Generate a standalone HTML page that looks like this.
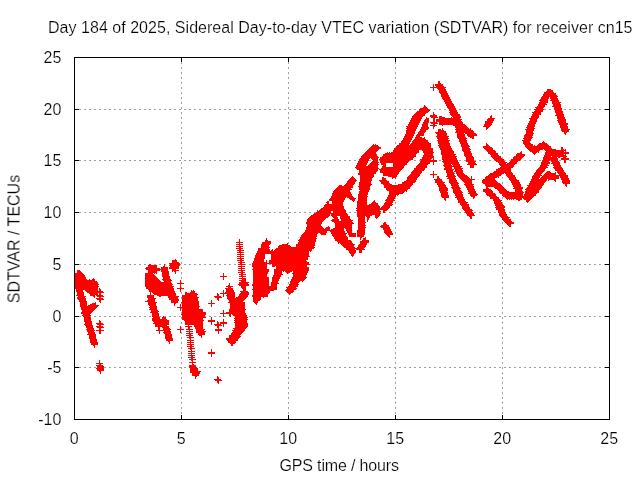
<!DOCTYPE html>
<html><head><meta charset="utf-8"><title>SDTVAR</title>
<style>
html,body{margin:0;padding:0;background:#fff;}
body{width:640px;height:480px;overflow:hidden;}
svg{display:block;}
text{font-family:"Liberation Sans",sans-serif;font-size:16px;fill:#000;stroke:#fff;stroke-width:0.2px;}
</style></head><body>
<svg width="640" height="480" viewBox="0 0 640 480">
<rect width="640" height="480" fill="#fff"/>
<g stroke="#a0a0a0" stroke-width="1" stroke-dasharray="2 3" shape-rendering="crispEdges"><line x1="181.5" y1="57" x2="181.5" y2="419"/><line x1="288.5" y1="57" x2="288.5" y2="419"/><line x1="395.5" y1="57" x2="395.5" y2="419"/><line x1="502.5" y1="57" x2="502.5" y2="419"/><line x1="74" y1="367.5" x2="610" y2="367.5"/><line x1="74" y1="316.5" x2="610" y2="316.5"/><line x1="74" y1="264.5" x2="610" y2="264.5"/><line x1="74" y1="212.5" x2="610" y2="212.5"/><line x1="74" y1="160.5" x2="610" y2="160.5"/><line x1="74" y1="109.5" x2="610" y2="109.5"/></g>
<path d="M438 81.5h2M438 82.5h2M438 83.5h3M433 84.5h1M435 84.5h8M433 85.5h1M435 85.5h8M433 86.5h1M436 86.5h8M430 87.5h16M433 88.5h1M437 88.5h8M433 89.5h1M438 89.5h8M547 89.5h4M433 90.5h1M439 90.5h7M547 90.5h6M439 91.5h8M546 91.5h7M439 92.5h8M544 92.5h10M440 93.5h8M544 93.5h12M441 94.5h7M543 94.5h13M441 95.5h8M543 95.5h14M441 96.5h8M542 96.5h16M442 97.5h8M541 97.5h8M550 97.5h7M442 98.5h8M541 98.5h8M550 98.5h8M443 99.5h8M540 99.5h8M551 99.5h7M444 100.5h7M539 100.5h9M550 100.5h9M444 101.5h8M540 101.5h8M552 101.5h7M445 102.5h7M539 102.5h9M552 102.5h9M445 103.5h8M539 103.5h7M552 103.5h8M446 104.5h8M538 104.5h9M553 104.5h8M424 105.5h1M446 105.5h8M538 105.5h7M553 105.5h8M424 106.5h2M447 106.5h8M537 106.5h8M552 106.5h9M423 107.5h4M447 107.5h8M535 107.5h9M554 107.5h7M420 108.5h8M448 108.5h8M536 108.5h7M554 108.5h8M419 109.5h10M449 109.5h7M534 109.5h10M554 109.5h8M419 110.5h11M449 110.5h8M535 110.5h8M555 110.5h7M417 111.5h12M450 111.5h7M534 111.5h9M555 111.5h8M416 112.5h12M433 112.5h1M449 112.5h9M532 112.5h9M555 112.5h8M415 113.5h11M433 113.5h1M450 113.5h8M533 113.5h8M556 113.5h7M414 114.5h11M433 114.5h2M450 114.5h10M532 114.5h9M556 114.5h8M413 115.5h12M430 115.5h7M451 115.5h9M491 115.5h1M532 115.5h7M555 115.5h9M412 116.5h11M430 116.5h7M439 116.5h3M452 116.5h9M490 116.5h2M531 116.5h8M557 116.5h7M412 117.5h10M426 117.5h1M431 117.5h7M439 117.5h6M451 117.5h1M453 117.5h8M490 117.5h2M531 117.5h8M557 117.5h8M411 118.5h11M426 118.5h3M433 118.5h2M439 118.5h21M488 118.5h7M529 118.5h9M557 118.5h8M411 119.5h10M425 119.5h4M433 119.5h2M436 119.5h26M487 119.5h7M530 119.5h7M558 119.5h8M410 120.5h11M424 120.5h5M433 120.5h2M436 120.5h25M487 120.5h7M530 120.5h7M557 120.5h9M410 121.5h10M424 121.5h5M433 121.5h2M436 121.5h26M485 121.5h8M529 121.5h8M558 121.5h8M409 122.5h11M423 122.5h6M430 122.5h7M439 122.5h24M485 122.5h8M529 122.5h7M558 122.5h8M409 123.5h10M423 123.5h5M431 123.5h7M439 123.5h24M485 123.5h7M528 123.5h8M559 123.5h9M408 124.5h11M422 124.5h6M433 124.5h2M439 124.5h26M484 124.5h8M528 124.5h7M559 124.5h9M408 125.5h10M422 125.5h6M430 125.5h7M442 125.5h1M453 125.5h13M484 125.5h7M527 125.5h8M560 125.5h7M406 126.5h12M422 126.5h6M433 126.5h2M455 126.5h12M483 126.5h7M527 126.5h8M560 126.5h8M407 127.5h10M421 127.5h8M433 127.5h1M455 127.5h13M486 127.5h3M526 127.5h8M560 127.5h8M406 128.5h11M421 128.5h8M433 128.5h1M442 128.5h1M456 128.5h13M470 128.5h1M486 128.5h2M527 128.5h8M561 128.5h7M407 129.5h9M420 129.5h8M438 129.5h3M442 129.5h1M455 129.5h16M486 129.5h1M525 129.5h9M561 129.5h9M406 130.5h10M420 130.5h6M438 130.5h6M456 130.5h17M526 130.5h8M561 130.5h8M406 131.5h9M419 131.5h7M438 131.5h8M456 131.5h18M526 131.5h7M562 131.5h7M406 132.5h9M418 132.5h7M435 132.5h11M455 132.5h19M526 132.5h7M564 132.5h3M406 133.5h9M418 133.5h6M436 133.5h11M457 133.5h7M465 133.5h11M526 133.5h8M564 133.5h2M405 134.5h9M417 134.5h7M437 134.5h10M457 134.5h8M467 134.5h10M525 134.5h8M565 134.5h1M405 135.5h9M416 135.5h8M437 135.5h10M457 135.5h8M467 135.5h10M524 135.5h9M404 136.5h9M416 136.5h4M436 136.5h13M457 136.5h8M468 136.5h6M524 136.5h8M404 137.5h9M415 137.5h7M424 137.5h1M437 137.5h11M457 137.5h9M470 137.5h4M524 137.5h9M403 138.5h9M415 138.5h10M437 138.5h12M458 138.5h9M472 138.5h2M523 138.5h9M403 139.5h9M414 139.5h12M438 139.5h10M459 139.5h7M524 139.5h7M402 140.5h9M413 140.5h15M437 140.5h13M459 140.5h8M522 140.5h9M401 141.5h10M412 141.5h16M438 141.5h11M459 141.5h8M523 141.5h7M543 141.5h1M401 142.5h9M412 142.5h17M438 142.5h11M460 142.5h7M523 142.5h7M542 142.5h3M399 143.5h11M411 143.5h20M438 143.5h12M460 143.5h8M486 143.5h1M523 143.5h8M539 143.5h8M373 144.5h1M375 144.5h1M399 144.5h10M410 144.5h21M439 144.5h11M461 144.5h7M486 144.5h2M524 144.5h9M538 144.5h10M372 145.5h6M397 145.5h34M438 145.5h12M461 145.5h8M486 145.5h3M525 145.5h8M534 145.5h1M537 145.5h12M371 146.5h8M396 146.5h35M439 146.5h12M461 146.5h9M483 146.5h7M525 146.5h26M370 147.5h11M396 147.5h35M439 147.5h12M462 147.5h7M483 147.5h9M526 147.5h25M561 147.5h2M369 148.5h12M394 148.5h39M440 148.5h12M462 148.5h8M484 148.5h9M527 148.5h25M561 148.5h2M368 149.5h11M394 149.5h39M440 149.5h12M462 149.5h9M485 149.5h8M528 149.5h15M544 149.5h12M561 149.5h3M565 149.5h1M367 150.5h11M393 150.5h26M422 150.5h11M441 150.5h12M462 150.5h8M486 150.5h9M529 150.5h11M545 150.5h21M366 151.5h11M393 151.5h26M423 151.5h10M441 151.5h13M463 151.5h8M487 151.5h9M521 151.5h1M530 151.5h9M546 151.5h18M565 151.5h1M365 152.5h11M387 152.5h1M389 152.5h1M391 152.5h28M423 152.5h11M441 152.5h13M464 152.5h7M488 152.5h8M520 152.5h2M532 152.5h5M538 152.5h1M545 152.5h24M364 153.5h12M385 153.5h32M424 153.5h9M441 153.5h13M464 153.5h8M488 153.5h10M517 153.5h5M533 153.5h3M545 153.5h24M363 154.5h14M383 154.5h33M424 154.5h9M441 154.5h15M464 154.5h8M490 154.5h8M516 154.5h9M534 154.5h1M545 154.5h19M565 154.5h1M362 155.5h15M383 155.5h33M423 155.5h10M442 155.5h13M464 155.5h8M491 155.5h8M516 155.5h9M544 155.5h22M361 156.5h17M382 156.5h34M423 156.5h11M442 156.5h15M465 156.5h8M491 156.5h10M514 156.5h10M544 156.5h7M552 156.5h15M361 157.5h18M380 157.5h34M422 157.5h12M442 157.5h14M466 157.5h8M492 157.5h9M513 157.5h10M543 157.5h14M558 157.5h2M563 157.5h3M360 158.5h10M371 158.5h7M380 158.5h33M422 158.5h10M433 158.5h1M442 158.5h15M466 158.5h8M493 158.5h9M513 158.5h9M543 158.5h15M561 158.5h8M359 159.5h10M372 159.5h6M379 159.5h34M420 159.5h11M433 159.5h1M442 159.5h15M466 159.5h8M494 159.5h10M511 159.5h10M543 159.5h15M561 159.5h8M359 160.5h10M373 160.5h5M380 160.5h30M421 160.5h16M443 160.5h15M466 160.5h8M495 160.5h9M511 160.5h9M542 160.5h8M551 160.5h7M564 160.5h2M358 161.5h10M372 161.5h6M380 161.5h29M420 161.5h17M442 161.5h16M466 161.5h10M496 161.5h9M510 161.5h8M542 161.5h7M551 161.5h8M564 161.5h2M358 162.5h10M371 162.5h8M380 162.5h28M420 162.5h10M433 162.5h1M443 162.5h16M468 162.5h7M498 162.5h9M509 162.5h8M541 162.5h9M552 162.5h8M564 162.5h2M357 163.5h10M370 163.5h8M381 163.5h5M393 163.5h14M419 163.5h11M433 163.5h1M444 163.5h15M468 163.5h8M499 163.5h7M507 163.5h10M541 163.5h9M551 163.5h9M357 164.5h10M369 164.5h10M381 164.5h5M393 164.5h14M418 164.5h10M433 164.5h1M444 164.5h7M452 164.5h8M467 164.5h10M499 164.5h16M541 164.5h7M553 164.5h7M356 165.5h10M368 165.5h10M383 165.5h3M393 165.5h12M417 165.5h10M443 165.5h9M453 165.5h7M470 165.5h4M500 165.5h14M540 165.5h9M553 165.5h8M356 166.5h22M382 166.5h4M393 166.5h11M416 166.5h11M444 166.5h18M470 166.5h4M501 166.5h13M540 166.5h7M554 166.5h7M355 167.5h23M382 167.5h22M416 167.5h11M445 167.5h7M454 167.5h7M470 167.5h4M500 167.5h13M539 167.5h9M553 167.5h9M356 168.5h23M381 168.5h22M414 168.5h11M444 168.5h8M454 168.5h9M498 168.5h13M538 168.5h8M554 168.5h9M357 169.5h21M379 169.5h23M414 169.5h11M444 169.5h10M455 169.5h7M496 169.5h15M537 169.5h8M555 169.5h8M359 170.5h19M380 170.5h21M413 170.5h11M446 170.5h7M455 170.5h8M496 170.5h15M536 170.5h9M555 170.5h9M359 171.5h18M380 171.5h20M412 171.5h10M433 171.5h1M446 171.5h7M454 171.5h9M494 171.5h17M536 171.5h8M547 171.5h3M557 171.5h7M359 172.5h17M380 172.5h19M411 172.5h11M433 172.5h1M446 172.5h8M456 172.5h7M493 172.5h19M535 172.5h8M546 172.5h5M555 172.5h1M557 172.5h8M358 173.5h18M383 173.5h16M411 173.5h10M433 173.5h1M447 173.5h8M456 173.5h8M490 173.5h14M505 173.5h8M534 173.5h8M545 173.5h11M558 173.5h8M358 174.5h16M383 174.5h15M410 174.5h10M430 174.5h7M447 174.5h7M457 174.5h8M489 174.5h13M506 174.5h7M534 174.5h7M544 174.5h12M559 174.5h7M360 175.5h14M383 175.5h14M409 175.5h11M433 175.5h1M447 175.5h8M457 175.5h10M488 175.5h13M506 175.5h9M533 175.5h9M543 175.5h25M352 176.5h1M360 176.5h14M388 176.5h9M408 176.5h11M433 176.5h1M437 176.5h2M446 176.5h10M458 176.5h10M471 176.5h1M486 176.5h13M507 176.5h8M532 176.5h8M542 176.5h17M560 176.5h8M351 177.5h3M360 177.5h13M382 177.5h2M392 177.5h4M407 177.5h11M433 177.5h1M437 177.5h2M448 177.5h7M459 177.5h10M471 177.5h1M485 177.5h12M498 177.5h1M508 177.5h8M532 177.5h8M541 177.5h18M560 177.5h8M350 178.5h5M360 178.5h12M382 178.5h4M392 178.5h1M395 178.5h1M407 178.5h10M437 178.5h3M447 178.5h9M460 178.5h10M471 178.5h1M485 178.5h10M509 178.5h7M532 178.5h7M540 178.5h19M561 178.5h8M349 179.5h7M360 179.5h12M382 179.5h4M407 179.5h10M434 179.5h8M449 179.5h7M461 179.5h14M483 179.5h12M509 179.5h8M531 179.5h16M548 179.5h8M561 179.5h8M348 180.5h9M360 180.5h12M379 180.5h8M406 180.5h10M435 180.5h7M449 180.5h8M462 180.5h10M482 180.5h14M510 180.5h9M531 180.5h16M548 180.5h1M554 180.5h2M562 180.5h8M347 181.5h9M360 181.5h11M380 181.5h9M404 181.5h12M435 181.5h8M449 181.5h8M463 181.5h9M482 181.5h15M511 181.5h8M530 181.5h16M555 181.5h1M562 181.5h8M347 182.5h8M359 182.5h12M381 182.5h8M402 182.5h13M435 182.5h10M449 182.5h9M464 182.5h8M482 182.5h16M511 182.5h9M530 182.5h15M562 182.5h8M346 183.5h9M359 183.5h12M381 183.5h9M402 183.5h11M437 183.5h7M450 183.5h9M465 183.5h7M483 183.5h17M512 183.5h8M529 183.5h15M563 183.5h7M345 184.5h9M359 184.5h13M383 184.5h9M398 184.5h15M437 184.5h8M451 184.5h7M464 184.5h10M485 184.5h16M512 184.5h9M529 184.5h15M565 184.5h2M339 185.5h3M344 185.5h9M359 185.5h12M384 185.5h28M438 185.5h8M451 185.5h8M465 185.5h8M485 185.5h17M513 185.5h8M527 185.5h16M565 185.5h2M338 186.5h15M358 186.5h12M384 186.5h27M438 186.5h8M452 186.5h7M466 186.5h8M486 186.5h17M513 186.5h8M528 186.5h14M566 186.5h1M337 187.5h16M359 187.5h11M384 187.5h26M439 187.5h8M451 187.5h9M466 187.5h8M486 187.5h2M494 187.5h10M514 187.5h9M527 187.5h15M336 188.5h15M359 188.5h11M386 188.5h24M439 188.5h9M452 188.5h9M467 188.5h7M486 188.5h3M495 188.5h10M513 188.5h10M526 188.5h15M335 189.5h17M359 189.5h11M386 189.5h22M439 189.5h9M453 189.5h7M467 189.5h8M483 189.5h8M497 189.5h9M515 189.5h7M525 189.5h15M334 190.5h16M360 190.5h9M387 190.5h20M439 190.5h9M453 190.5h8M468 190.5h7M483 190.5h9M498 190.5h9M515 190.5h7M526 190.5h13M333 191.5h17M359 191.5h10M389 191.5h16M406 191.5h1M440 191.5h7M453 191.5h9M468 191.5h8M483 191.5h10M499 191.5h10M515 191.5h8M525 191.5h14M333 192.5h18M359 192.5h9M389 192.5h15M440 192.5h8M453 192.5h10M469 192.5h7M485 192.5h8M499 192.5h25M525 192.5h14M332 193.5h19M359 193.5h9M389 193.5h14M441 193.5h7M454 193.5h8M468 193.5h9M486 193.5h9M500 193.5h23M525 193.5h12M332 194.5h20M358 194.5h10M389 194.5h10M441 194.5h7M455 194.5h8M470 194.5h8M486 194.5h10M502 194.5h21M524 194.5h12M332 195.5h20M358 195.5h9M388 195.5h8M397 195.5h1M441 195.5h8M455 195.5h8M470 195.5h7M487 195.5h9M502 195.5h21M524 195.5h12M331 196.5h22M358 196.5h10M388 196.5h8M441 196.5h8M456 196.5h7M471 196.5h4M489 196.5h8M503 196.5h31M331 197.5h15M347 197.5h7M358 197.5h9M387 197.5h8M442 197.5h7M455 197.5h9M473 197.5h2M490 197.5h9M505 197.5h28M330 198.5h15M349 198.5h7M358 198.5h9M387 198.5h8M444 198.5h2M457 198.5h7M473 198.5h1M490 198.5h9M506 198.5h16M523 198.5h9M329 199.5h16M350 199.5h5M358 199.5h9M386 199.5h8M444 199.5h2M457 199.5h8M493 199.5h7M507 199.5h1M509 199.5h1M511 199.5h1M513 199.5h1M516 199.5h6M524 199.5h7M329 200.5h15M352 200.5h3M358 200.5h9M374 200.5h1M385 200.5h10M445 200.5h1M458 200.5h7M493 200.5h9M518 200.5h2M526 200.5h4M327 201.5h2M332 201.5h12M353 201.5h1M357 201.5h10M373 201.5h2M386 201.5h7M458 201.5h8M494 201.5h7M526 201.5h3M326 202.5h3M332 202.5h11M357 202.5h10M372 202.5h4M385 202.5h8M458 202.5h10M494 202.5h8M527 202.5h1M327 203.5h2M332 203.5h11M357 203.5h10M371 203.5h7M384 203.5h8M460 203.5h7M494 203.5h8M325 204.5h18M357 204.5h10M369 204.5h9M384 204.5h9M460 204.5h9M495 204.5h8M324 205.5h19M357 205.5h22M383 205.5h9M461 205.5h8M495 205.5h9M324 206.5h20M357 206.5h23M382 206.5h8M462 206.5h7M496 206.5h9M323 207.5h21M357 207.5h23M381 207.5h9M462 207.5h8M495 207.5h10M321 208.5h23M356 208.5h33M462 208.5h8M496 208.5h8M320 209.5h25M357 209.5h31M463 209.5h9M496 209.5h9M317 210.5h1M319 210.5h27M356 210.5h24M383 210.5h4M464 210.5h9M498 210.5h7M317 211.5h14M333 211.5h13M357 211.5h24M383 211.5h2M465 211.5h7M498 211.5h7M316 212.5h15M333 212.5h13M357 212.5h23M383 212.5h2M465 212.5h8M498 212.5h8M314 213.5h33M357 213.5h24M466 213.5h8M499 213.5h7M313 214.5h17M331 214.5h17M357 214.5h23M467 214.5h7M499 214.5h8M311 215.5h19M331 215.5h17M357 215.5h15M375 215.5h5M467 215.5h8M499 215.5h8M310 216.5h19M332 216.5h5M340 216.5h10M357 216.5h8M366 216.5h4M375 216.5h4M469 216.5h3M500 216.5h8M309 217.5h19M333 217.5h5M340 217.5h10M358 217.5h7M367 217.5h3M375 217.5h3M470 217.5h2M501 217.5h9M308 218.5h18M334 218.5h4M340 218.5h10M358 218.5h7M367 218.5h2M376 218.5h1M470 218.5h2M502 218.5h7M307 219.5h18M332 219.5h7M341 219.5h10M358 219.5h7M367 219.5h2M502 219.5h9M307 220.5h17M331 220.5h8M341 220.5h12M358 220.5h7M367 220.5h1M503 220.5h8M307 221.5h16M332 221.5h20M358 221.5h7M367 221.5h1M504 221.5h8M306 222.5h16M334 222.5h19M358 222.5h8M384 222.5h2M505 222.5h9M306 223.5h16M335 223.5h19M358 223.5h7M383 223.5h3M506 223.5h8M307 224.5h14M335 224.5h17M358 224.5h7M383 224.5h4M507 224.5h4M307 225.5h14M335 225.5h17M358 225.5h8M381 225.5h8M508 225.5h3M307 226.5h15M328 226.5h1M335 226.5h17M358 226.5h7M380 226.5h9M509 226.5h2M306 227.5h17M326 227.5h4M335 227.5h17M358 227.5h8M381 227.5h9M306 228.5h18M325 228.5h5M333 228.5h11M345 228.5h7M358 228.5h7M383 228.5h7M306 229.5h24M331 229.5h13M346 229.5h6M358 229.5h7M383 229.5h8M305 230.5h39M346 230.5h6M357 230.5h8M384 230.5h7M305 231.5h22M330 231.5h15M347 231.5h5M357 231.5h8M384 231.5h8M304 232.5h23M331 232.5h14M347 232.5h5M357 232.5h8M384 232.5h8M303 233.5h15M320 233.5h6M331 233.5h16M348 233.5h8M357 233.5h8M385 233.5h8M302 234.5h15M321 234.5h5M332 234.5h14M348 234.5h8M357 234.5h8M386 234.5h7M301 235.5h16M332 235.5h14M349 235.5h7M357 235.5h7M387 235.5h3M301 236.5h16M333 236.5h14M349 236.5h7M357 236.5h7M388 236.5h2M300 237.5h16M334 237.5h14M360 237.5h2M365 237.5h1M389 237.5h1M266 238.5h1M300 238.5h17M334 238.5h14M360 238.5h1M363 238.5h3M239 239.5h1M266 239.5h1M299 239.5h17M335 239.5h13M360 239.5h1M363 239.5h3M239 240.5h1M265 240.5h3M298 240.5h18M335 240.5h16M362 240.5h7M239 241.5h1M265 241.5h6M299 241.5h17M337 241.5h15M360 241.5h9M236 242.5h7M262 242.5h9M298 242.5h17M338 242.5h14M360 242.5h9M239 243.5h1M262 243.5h9M287 243.5h1M298 243.5h17M338 243.5h1M340 243.5h13M360 243.5h7M236 244.5h7M261 244.5h9M282 244.5h6M296 244.5h19M341 244.5h14M359 244.5h8M239 245.5h1M261 245.5h8M279 245.5h11M296 245.5h19M342 245.5h12M358 245.5h8M236 246.5h7M261 246.5h8M278 246.5h13M296 246.5h18M343 246.5h11M358 246.5h8M239 247.5h2M261 247.5h9M278 247.5h37M344 247.5h11M357 247.5h8M236 248.5h7M258 248.5h11M276 248.5h38M346 248.5h18M239 249.5h2M258 249.5h12M272 249.5h1M275 249.5h37M346 249.5h9M356 249.5h9M237 250.5h7M258 250.5h12M271 250.5h2M274 250.5h38M348 250.5h8M359 250.5h3M239 251.5h2M257 251.5h52M310 251.5h1M349 251.5h7M359 251.5h3M237 252.5h7M257 252.5h52M349 252.5h7M359 252.5h3M240 253.5h1M256 253.5h53M350 253.5h5M237 254.5h7M256 254.5h9M271 254.5h38M351 254.5h3M240 255.5h1M255 255.5h10M271 255.5h38M351 255.5h3M237 256.5h7M255 256.5h10M271 256.5h39M352 256.5h1M240 257.5h1M255 257.5h10M271 257.5h37M237 258.5h7M254 258.5h11M271 258.5h37M175 259.5h1M240 259.5h2M254 259.5h10M271 259.5h37M172 260.5h5M237 260.5h7M254 260.5h10M266 260.5h1M269 260.5h37M172 261.5h5M240 261.5h2M253 261.5h11M266 261.5h1M269 261.5h38M172 262.5h7M238 262.5h7M253 262.5h14M269 262.5h40M169 263.5h11M240 263.5h2M252 263.5h57M149 264.5h2M164 264.5h1M170 264.5h10M238 264.5h7M252 264.5h15M272 264.5h38M148 265.5h9M164 265.5h1M169 265.5h11M241 265.5h1M252 265.5h15M272 265.5h35M148 266.5h9M163 266.5h2M170 266.5h9M238 266.5h7M252 266.5h15M272 266.5h3M276 266.5h31M146 267.5h11M161 267.5h7M169 267.5h10M241 267.5h1M253 267.5h14M276 267.5h33M145 268.5h15M161 268.5h7M169 268.5h10M238 268.5h7M253 268.5h14M276 268.5h33M146 269.5h22M172 269.5h4M241 269.5h1M252 269.5h17M274 269.5h35M77 270.5h3M148 270.5h12M161 270.5h7M172 270.5h7M238 270.5h7M253 270.5h16M274 270.5h35M77 271.5h4M148 271.5h9M161 271.5h8M172 271.5h1M174 271.5h2M241 271.5h2M253 271.5h16M274 271.5h8M283 271.5h1M285 271.5h7M293 271.5h15M77 272.5h5M148 272.5h9M162 272.5h7M175 272.5h1M238 272.5h7M253 272.5h15M274 272.5h8M286 272.5h4M293 272.5h15M74 273.5h9M145 273.5h8M154 273.5h1M156 273.5h1M162 273.5h7M175 273.5h1M223 273.5h1M241 273.5h2M253 273.5h15M274 273.5h8M287 273.5h1M292 273.5h15M75 274.5h9M145 274.5h9M162 274.5h7M223 274.5h1M239 274.5h7M253 274.5h14M274 274.5h9M293 274.5h14M75 275.5h10M145 275.5h10M162 275.5h7M223 275.5h1M241 275.5h2M253 275.5h14M273 275.5h8M293 275.5h13M75 276.5h10M145 276.5h11M162 276.5h8M220 276.5h7M239 276.5h7M253 276.5h14M273 276.5h8M293 276.5h13M75 277.5h11M145 277.5h12M163 277.5h7M223 277.5h1M242 277.5h1M253 277.5h16M272 277.5h8M292 277.5h15M75 278.5h11M93 278.5h1M145 278.5h13M163 278.5h7M223 278.5h1M239 278.5h7M253 278.5h16M272 278.5h8M292 278.5h14M75 279.5h12M89 279.5h1M92 279.5h3M145 279.5h14M162 279.5h9M223 279.5h1M242 279.5h4M253 279.5h16M272 279.5h7M291 279.5h14M74 280.5h21M145 280.5h15M163 280.5h9M180 280.5h1M239 280.5h7M253 280.5h16M272 280.5h7M291 280.5h13M75 281.5h22M145 281.5h16M164 281.5h7M180 281.5h1M241 281.5h5M253 281.5h16M272 281.5h6M290 281.5h10M302 281.5h1M75 282.5h23M145 282.5h26M180 282.5h1M239 282.5h10M253 282.5h16M271 282.5h7M290 282.5h9M75 283.5h23M145 283.5h27M177 283.5h7M229 283.5h1M239 283.5h9M253 283.5h16M271 283.5h8M290 283.5h8M75 284.5h24M145 284.5h28M180 284.5h1M229 284.5h1M238 284.5h11M252 284.5h17M271 284.5h6M289 284.5h10M75 285.5h23M145 285.5h27M180 285.5h1M228 285.5h2M239 285.5h10M252 285.5h17M271 285.5h6M289 285.5h9M75 286.5h24M145 286.5h29M180 286.5h1M226 286.5h7M241 286.5h5M253 286.5h24M288 286.5h10M75 287.5h23M146 287.5h27M180 287.5h1M228 287.5h3M241 287.5h5M253 287.5h24M286 287.5h10M74 288.5h24M99 288.5h1M146 288.5h28M177 288.5h7M225 288.5h8M242 288.5h4M253 288.5h24M287 288.5h10M76 289.5h22M99 289.5h2M148 289.5h26M180 289.5h1M226 289.5h7M243 289.5h3M252 289.5h25M286 289.5h10M76 290.5h7M85 290.5h13M99 290.5h2M149 290.5h25M180 290.5h1M191 290.5h1M193 290.5h1M223 290.5h1M226 290.5h8M243 290.5h3M253 290.5h21M285 290.5h9M76 291.5h7M86 291.5h17M149 291.5h26M180 291.5h1M191 291.5h4M223 291.5h1M226 291.5h8M240 291.5h8M253 291.5h17M286 291.5h8M77 292.5h7M87 292.5h17M150 292.5h1M152 292.5h23M185 292.5h2M190 292.5h5M223 292.5h1M225 292.5h10M241 292.5h8M253 292.5h17M287 292.5h6M77 293.5h7M89 293.5h9M99 293.5h2M150 293.5h1M153 293.5h23M185 293.5h12M217 293.5h1M220 293.5h15M240 293.5h9M253 293.5h16M288 293.5h3M77 294.5h7M90 294.5h8M99 294.5h2M150 294.5h1M154 294.5h22M185 294.5h13M217 294.5h2M223 294.5h1M227 294.5h8M239 294.5h10M253 294.5h15M289 294.5h1M76 295.5h8M90 295.5h5M96 295.5h7M147 295.5h7M157 295.5h19M182 295.5h15M217 295.5h2M223 295.5h1M226 295.5h9M239 295.5h9M252 295.5h16M78 296.5h8M93 296.5h2M97 296.5h7M147 296.5h7M159 296.5h2M168 296.5h11M182 296.5h15M214 296.5h7M223 296.5h1M227 296.5h8M238 296.5h10M252 296.5h16M77 297.5h8M94 297.5h1M99 297.5h2M147 297.5h7M168 297.5h10M182 297.5h17M215 297.5h7M227 297.5h8M236 297.5h11M253 297.5h8M263 297.5h1M77 298.5h9M96 298.5h7M148 298.5h8M169 298.5h9M182 298.5h16M217 298.5h2M227 298.5h19M253 298.5h8M78 299.5h8M97 299.5h7M148 299.5h7M169 299.5h10M182 299.5h16M217 299.5h2M228 299.5h17M253 299.5h8M79 300.5h7M99 300.5h2M147 300.5h8M171 300.5h8M182 300.5h16M211 300.5h1M218 300.5h1M229 300.5h15M253 300.5h7M79 301.5h8M99 301.5h2M145 301.5h10M171 301.5h7M182 301.5h17M211 301.5h1M229 301.5h14M253 301.5h5M80 302.5h7M95 302.5h1M100 302.5h1M148 302.5h9M171 302.5h7M181 302.5h18M211 302.5h1M228 302.5h17M254 302.5h4M80 303.5h7M92 303.5h4M148 303.5h8M174 303.5h2M182 303.5h17M208 303.5h7M230 303.5h15M255 303.5h2M80 304.5h7M90 304.5h6M148 304.5h8M174 304.5h1M180 304.5h1M182 304.5h17M211 304.5h1M230 304.5h15M256 304.5h1M80 305.5h7M88 305.5h11M149 305.5h7M174 305.5h1M180 305.5h1M182 305.5h17M211 305.5h1M230 305.5h15M80 306.5h18M150 306.5h7M180 306.5h1M182 306.5h18M211 306.5h1M230 306.5h15M81 307.5h16M149 307.5h8M177 307.5h22M230 307.5h15M81 308.5h15M150 308.5h7M180 308.5h1M182 308.5h17M230 308.5h15M81 309.5h14M149 309.5h8M180 309.5h1M182 309.5h21M229 309.5h17M82 310.5h12M151 310.5h7M180 310.5h1M182 310.5h21M223 310.5h1M229 310.5h16M82 311.5h11M151 311.5h8M182 311.5h21M223 311.5h1M229 311.5h16M81 312.5h11M150 312.5h8M182 312.5h24M223 312.5h1M226 312.5h19M81 313.5h10M152 313.5h7M182 313.5h24M220 313.5h26M83 314.5h7M152 314.5h7M181 314.5h25M223 314.5h1M229 314.5h2M232 314.5h14M82 315.5h9M152 315.5h7M182 315.5h23M223 315.5h1M229 315.5h2M233 315.5h14M83 316.5h7M152 316.5h7M163 316.5h1M182 316.5h23M223 316.5h1M230 316.5h1M235 316.5h12M84 317.5h7M153 317.5h7M162 317.5h4M182 317.5h24M211 317.5h1M235 317.5h13M84 318.5h7M152 318.5h8M162 318.5h4M182 318.5h21M211 318.5h1M234 318.5h13M84 319.5h7M152 319.5h15M182 319.5h21M211 319.5h1M223 319.5h1M235 319.5h13M84 320.5h7M99 320.5h1M152 320.5h17M184 320.5h20M208 320.5h7M223 320.5h1M234 320.5h13M84 321.5h8M99 321.5h2M153 321.5h16M185 321.5h18M208 321.5h7M217 321.5h1M223 321.5h1M235 321.5h12M85 322.5h7M99 322.5h2M154 322.5h15M185 322.5h18M211 322.5h1M217 322.5h2M220 322.5h7M234 322.5h13M85 323.5h7M96 323.5h7M153 323.5h16M185 323.5h18M211 323.5h1M217 323.5h2M220 323.5h7M235 323.5h13M84 324.5h8M97 324.5h7M155 324.5h14M185 324.5h18M211 324.5h1M214 324.5h7M223 324.5h1M235 324.5h13M85 325.5h8M99 325.5h2M155 325.5h12M188 325.5h1M194 325.5h9M215 325.5h7M223 325.5h1M235 325.5h13M86 326.5h7M96 326.5h7M155 326.5h14M180 326.5h1M185 326.5h7M194 326.5h9M217 326.5h2M223 326.5h1M235 326.5h13M86 327.5h7M97 327.5h7M158 327.5h2M162 327.5h7M180 327.5h1M188 327.5h2M195 327.5h8M217 327.5h2M235 327.5h12M87 328.5h7M99 328.5h2M158 328.5h2M163 328.5h7M180 328.5h1M188 328.5h2M195 328.5h8M218 328.5h1M233 328.5h13M86 329.5h8M99 329.5h2M158 329.5h2M163 329.5h8M177 329.5h7M186 329.5h7M196 329.5h9M215 329.5h7M234 329.5h11M87 330.5h8M96 330.5h8M156 330.5h14M180 330.5h1M189 330.5h1M196 330.5h8M215 330.5h7M232 330.5h13M87 331.5h7M99 331.5h2M159 331.5h1M164 331.5h7M180 331.5h1M186 331.5h7M196 331.5h10M218 331.5h1M233 331.5h11M88 332.5h7M99 332.5h2M159 332.5h1M163 332.5h8M180 332.5h1M189 332.5h1M196 332.5h9M218 332.5h1M232 332.5h11M88 333.5h7M99 333.5h2M159 333.5h1M164 333.5h7M186 333.5h7M198 333.5h7M218 333.5h1M231 333.5h11M87 334.5h9M165 334.5h7M189 334.5h2M198 334.5h7M231 334.5h10M89 335.5h7M165 335.5h7M186 335.5h7M199 335.5h3M229 335.5h11M89 336.5h7M165 336.5h7M189 336.5h2M201 336.5h1M229 336.5h12M89 337.5h7M165 337.5h7M187 337.5h7M201 337.5h1M229 337.5h11M89 338.5h7M165 338.5h8M189 338.5h2M226 338.5h13M90 339.5h7M166 339.5h7M190 339.5h1M226 339.5h12M90 340.5h7M166 340.5h7M187 340.5h7M227 340.5h11M90 341.5h7M168 341.5h2M190 341.5h1M228 341.5h8M90 342.5h8M169 342.5h1M187 342.5h7M228 342.5h8M91 343.5h7M169 343.5h1M190 343.5h1M230 343.5h5M91 344.5h7M187 344.5h7M231 344.5h2M93 345.5h2M190 345.5h2M231 345.5h2M94 346.5h1M187 346.5h7M94 347.5h1M190 347.5h2M188 348.5h7M190 349.5h2M211 349.5h1M191 350.5h1M211 350.5h1M188 351.5h7M211 351.5h1M191 352.5h1M208 352.5h7M188 353.5h7M208 353.5h7M191 354.5h1M211 354.5h1M188 355.5h7M211 355.5h1M191 356.5h2M211 356.5h1M188 357.5h7M191 358.5h2M189 359.5h7M99 360.5h1M191 360.5h2M99 361.5h1M192 361.5h1M99 362.5h1M189 362.5h7M96 363.5h7M192 363.5h1M99 364.5h2M192 364.5h2M96 365.5h7M189 365.5h7M97 366.5h7M189 366.5h7M97 367.5h7M189 367.5h8M96 368.5h8M190 368.5h8M97 369.5h7M190 369.5h8M97 370.5h7M190 370.5h8M99 371.5h2M190 371.5h11M100 372.5h1M190 372.5h10M100 373.5h1M192 373.5h8M192 374.5h7M192 375.5h7M195 376.5h2M217 376.5h1M195 377.5h1M217 377.5h2M195 378.5h1M217 378.5h2M214 379.5h7M215 380.5h7M217 381.5h2M217 382.5h2M218 383.5h1" stroke="#ff0000" stroke-width="1" fill="none" shape-rendering="crispEdges"/>
<path d="M74.5 419v-4M74.5 58v4M181.5 419v-4M181.5 58v4M288.5 419v-4M288.5 58v4M395.5 419v-4M395.5 58v4M502.5 419v-4M502.5 58v4M609.5 419v-4M609.5 58v4M75 419.5h4M609 419.5h-4M75 367.5h4M609 367.5h-4M75 316.5h4M609 316.5h-4M75 264.5h4M609 264.5h-4M75 212.5h4M609 212.5h-4M75 160.5h4M609 160.5h-4M75 109.5h4M609 109.5h-4M75 57.5h4M609 57.5h-4" stroke="#000" stroke-width="1" fill="none" shape-rendering="crispEdges"/>
<rect x="74.5" y="57.5" width="535" height="362" fill="none" stroke="#000" stroke-width="1" shape-rendering="crispEdges"/>
<g opacity="0.999"><text x="74.2" y="443.7" text-anchor="middle">0</text><text x="181.2" y="443.7" text-anchor="middle">5</text><text x="288.2" y="443.7" text-anchor="middle">10</text><text x="395.2" y="443.7" text-anchor="middle">15</text><text x="502.2" y="443.7" text-anchor="middle">20</text><text x="609.2" y="443.7" text-anchor="middle">25</text><text x="61.4" y="425" text-anchor="end">-10</text><text x="61.4" y="373" text-anchor="end">-5</text><text x="61.4" y="322" text-anchor="end">0</text><text x="61.4" y="270" text-anchor="end">5</text><text x="61.4" y="218" text-anchor="end">10</text><text x="61.4" y="166" text-anchor="end">15</text><text x="61.4" y="115" text-anchor="end">20</text><text x="61.4" y="63" text-anchor="end">25</text>
<text x="48" y="33" textLength="584.5" lengthAdjust="spacing">Day 184 of 2025, Sidereal Day-to-day VTEC variation (SDTVAR) for receiver cn15</text>
<text x="279.5" y="471" textLength="119.5" lengthAdjust="spacing">GPS time / hours</text>
<text transform="translate(19.5,239) rotate(-90)" text-anchor="middle">SDTVAR / TECUs</text>
</g>
</svg>
</body></html>
